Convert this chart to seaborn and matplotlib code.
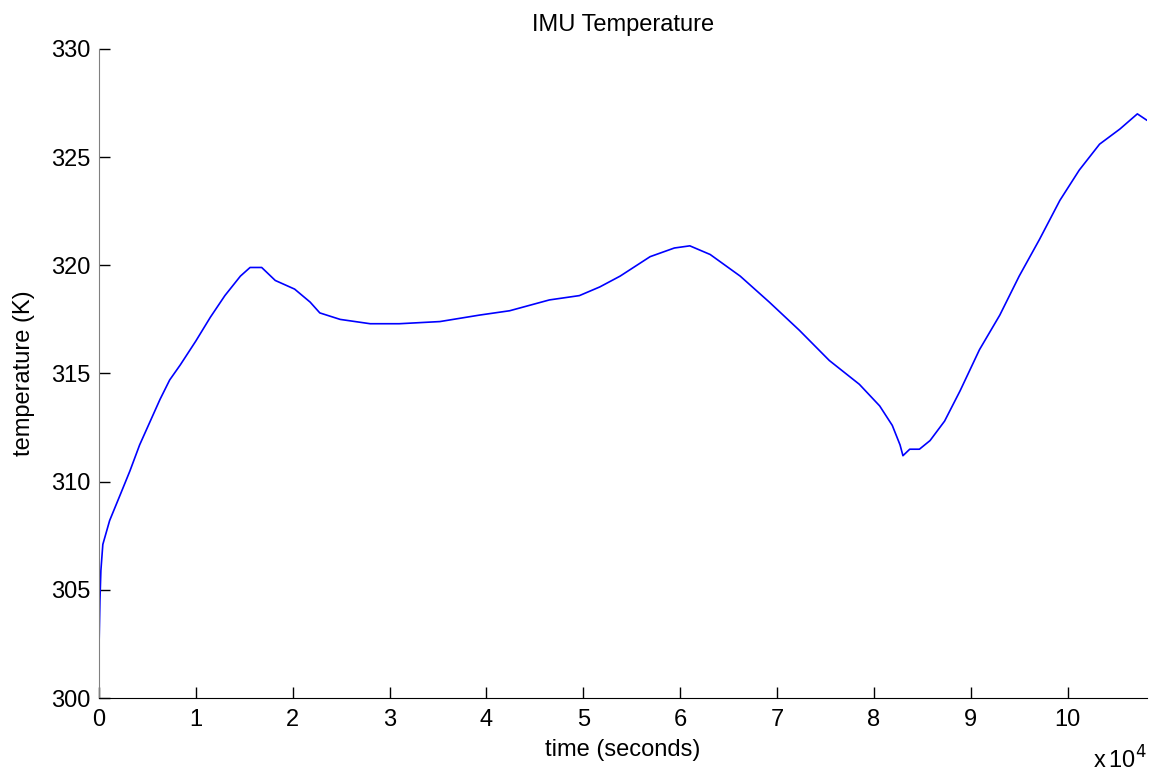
import matplotlib
matplotlib.use("Agg")
from matplotlib import pyplot as plt
import pandas as pd
import seaborn as sns

# ----------------- data
time_s = [0, 100, 200, 400, 1100, 2200, 3200, 4200, 5300, 6300, 7300, 8400,
          10000, 11500, 13000, 14600, 15600, 16800, 18200, 20200, 21800, 22800,
          24900, 28000, 31000, 35200, 39300, 42400, 46500, 49600, 51700, 53800,
          56900, 59400, 61000, 63100, 66200, 69200, 72300, 75400, 78500, 80600,
          81900, 82700, 83000, 83700, 84700, 85800, 87300, 88900, 90900, 93000,
          95000, 97100, 99200, 101200, 103300, 105400, 107200, 108200]
temp_k = [302.2, 304.5, 305.9, 307.1, 308.2, 309.4, 310.5, 311.7, 312.8, 313.8,
          314.7, 315.4, 316.5, 317.6, 318.6, 319.5, 319.9, 319.9, 319.3, 318.9,
          318.3, 317.8, 317.5, 317.3, 317.3, 317.4, 317.7, 317.9, 318.4, 318.6,
          319.0, 319.5, 320.4, 320.8, 320.9, 320.5, 319.5, 318.3, 317.0, 315.6,
          314.5, 313.5, 312.6, 311.7, 311.2, 311.5, 311.5, 311.9, 312.8, 314.2,
          316.1, 317.7, 319.5, 321.2, 323.0, 324.4, 325.6, 326.3, 327.0, 326.7]
x_ticks = list(range(0, 110000, 10000))
x_labels = [str(i) for i in range(0, 11)]
y_ticks = [300, 305, 310, 315, 320, 325, 330]

df = pd.DataFrame({'time': time_s, 'temp': temp_k})

# ----------------- style
sns.set_style("ticks")
plt.rcParams['font.family'] = ['Liberation Sans', 'DejaVu Sans']
plt.rcParams['text.color'] = 'black'
plt.rcParams['axes.labelcolor'] = 'black'

fig = plt.figure(figsize=(11.52, 7.76), dpi=100)
ax = fig.add_axes([0.0859, 0.1005, 0.9098, 0.8364])

sns.lineplot(data=df, x='time', y='temp', color='#0000ff', linewidth=1.2, ax=ax)

ax.set_xlim(0, 108200)
ax.set_ylim(300, 330)
ax.set_xticks(x_ticks)
ax.set_xticklabels(x_labels)
ax.set_yticks(y_ticks)

ax.tick_params(axis='both', direction='in', length=8, width=1, labelsize=17,
               colors='black')
ax.tick_params(axis='x', pad=8)
ax.tick_params(axis='y', pad=6)

ax.spines['top'].set_visible(False)
ax.spines['right'].set_visible(False)
ax.spines['left'].set_color('#808080')
ax.spines['bottom'].set_color('black')

ax.set_title('IMU Temperature', fontsize=17, pad=13, color='black')
ax.set_xlabel('time (seconds)', fontsize=17, labelpad=6)
ax.set_ylabel('temperature (K)', fontsize=17, labelpad=12)

# exponent of the x axis, as in the original
fig.text(1147 / 1152, 1 - 760 / 776, r'x$\,$10$^{4}$', fontsize=17,
         ha='right', va='center', color='black')

fig.savefig('out.png', dpi=100)
